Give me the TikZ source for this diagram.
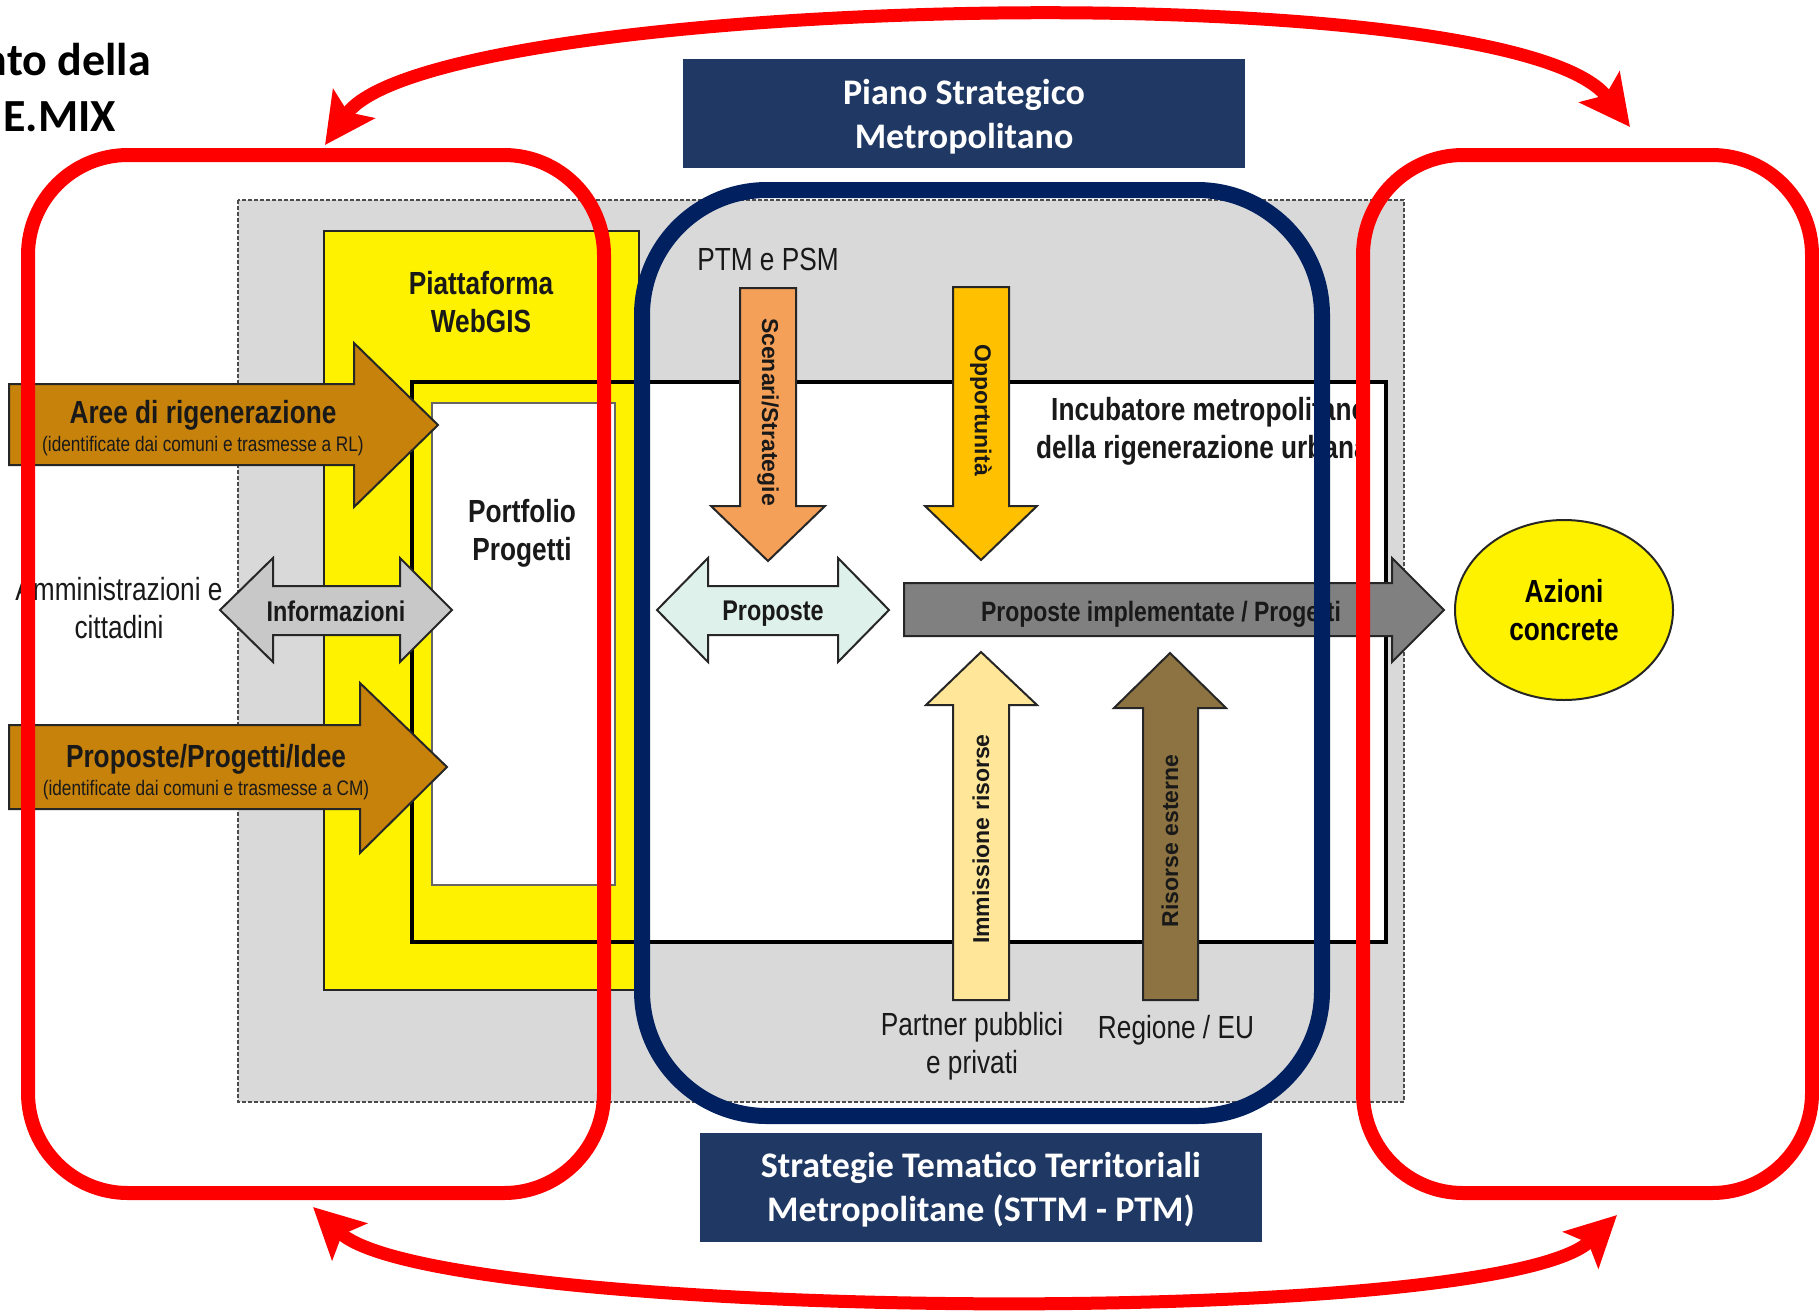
\documentclass[tikz,border=0pt]{standalone}
\usepackage{fontspec}
\setmainfont{Liberation Sans}
\newfontfamily\narfont[FakeStretch=0.82]{Liberation Sans}
\newfontfamily\calfont{Carlito}
\usetikzlibrary{arrows.meta,shapes.geometric}
\definecolor{redL}{RGB}{255,0,0}
\definecolor{navyL}{RGB}{0,32,96}
\definecolor{boxblue}{RGB}{32,56,100}
\definecolor{bgrey}{RGB}{217,217,217}
\definecolor{brownA}{RGB}{199,130,12}
\definecolor{orangeA}{RGB}{244,160,88}
\definecolor{goldA}{RGB}{255,192,0}
\definecolor{paleY}{RGB}{255,230,153}
\definecolor{oliveA}{RGB}{140,115,65}
\definecolor{mintA}{RGB}{222,241,234}
\definecolor{greyA}{RGB}{200,200,200}
\definecolor{darkA}{RGB}{128,128,128}
\begin{document}
\begin{tikzpicture}[x=1pt,y=-1pt,
  blk/.style={draw=black!85, line width=2pt, line join=miter},
  bnar/.style={font=\narfont\bfseries\fontsize{32}{38}\selectfont, inner sep=0, align=center, text=black!90},
  rnar/.style={font=\narfont\fontsize{32}{38}\selectfont, inner sep=0, align=center, text=black!90},
  subnar/.style={font=\narfont\fontsize{21}{24}\selectfont, inner sep=0, text=black!90},
  rot/.style={font=\bfseries\fontsize{23}{26}\selectfont, inner sep=0, text=black!90},
  ctext/.style={text=white, font=\calfont\bfseries\fontsize{36}{44}\selectfont, align=center, inner sep=0},
  redbox/.style={draw=redL, line width=14pt, rounded corners=100pt},
  redarc/.style={draw=redL, line width=13pt, {Stealth[length=50pt,width=50pt,inset=10pt]}-{Stealth[length=50pt,width=50pt,inset=10pt]}}
]
\useasboundingbox (0,0) rectangle (1819,1312);
\fill[white] (0,0) rectangle (1819,1312);

% title
\node[anchor=east, inner sep=0, font=\calfont\bfseries\fontsize{46}{54}\selectfont] (t1) at (151,60) {nto della};
\node[anchor=east, inner sep=0, font=\calfont\bfseries\fontsize{46}{54}\selectfont] (t2) at (116,117) {E.MIX};

% grey background
\draw[draw=black!70, fill=bgrey, dash pattern=on 4pt off 2pt, line width=1.8pt] (238,200) rectangle (1404,1102);
% incubator fill
\fill[white] (412,382) rectangle (1386,942);
% yellow platform
\draw[fill=yellow, draw=black!85, line width=2.5pt] (324,231) rectangle (639,990);
% incubator border
\draw[black, line width=3.5pt] (412,382) rectangle (1386,942);
% portfolio
\draw[fill=white, draw=black!60, line width=1.5pt] (432,403) rectangle (615,885);

\node[bnar] (piatt) at (481,302) {Piattaforma\\WebGIS};
\node[bnar] (portf) at (522,533) {Portfolio\\Progetti};
\node[bnar, anchor=west] (incub1) at (1051,412) {Incubatore metropolitano};
\node[bnar, anchor=west] (incub2) at (1036,450) {della rigenerazione urbana};
\node[rnar] (amm) at (119,608) {Amministrazioni e\\cittadini};
\node[rnar] (ptm) at (768,259) {PTM e PSM};
\node[rnar] (partner) at (972,1046) {Partner pubblici\\e privati};
\node[rnar] (regione) at (1176,1030) {Regione / EU};

% Aree di rigenerazione arrow
\draw[blk, fill=brownA] (9,384) -- (354,384) -- (354,343) -- (438,425) -- (354,507) -- (354,465) -- (9,465) -- cycle;
\node[bnar] (aree) at (203,415) {Aree di rigenerazione};
\node[subnar] (areesub) at (203,446) {(identificate dai comuni e trasmesse a RL)};

% Proposte/Progetti/Idee arrow
\draw[blk, fill=brownA] (9,725) -- (360,725) -- (360,683) -- (447,767) -- (360,853) -- (360,809) -- (9,809) -- cycle;
\node[bnar] (ppi) at (206,759) {Proposte/Progetti/Idee};
\node[subnar] (ppisub) at (206,790) {(identificate dai comuni e trasmesse a CM)};

% Informazioni double arrow
\draw[blk, fill=greyA] (220,610) -- (273,558) -- (273,586) -- (400,586) -- (400,558) -- (452,610) -- (400,662) -- (400,635) -- (273,635) -- (273,662) -- cycle;
\node[bnar, font=\narfont\bfseries\fontsize{28.5}{32}\selectfont] (info) at (336,611) {Informazioni};

% Proposte double arrow
\draw[blk, fill=mintA] (657,610) -- (708,558) -- (708,586) -- (838,586) -- (838,558) -- (889,610) -- (838,662) -- (838,635) -- (708,635) -- (708,662) -- cycle;
\node[bnar, font=\narfont\bfseries\fontsize{28.5}{32}\selectfont] (prop) at (773,614) {Proposte};

% Scenari/Strategie down arrow
\draw[blk, fill=orangeA] (740,288) -- (796,288) -- (796,506) -- (825,506) -- (768,561) -- (711,506) -- (740,506) -- cycle;
\node[rot, rotate=-90] (scen) at (768,412) {Scenari/Strategie};

% Opportunita down arrow
\draw[blk, fill=goldA] (953,287) -- (1009,287) -- (1009,506) -- (1037,506) -- (981,560) -- (925,506) -- (953,506) -- cycle;
\node[rot, rotate=-90] (opp) at (981,410) {Opportunità};

% Proposte implementate arrow
\draw[blk, fill=darkA] (904,583) -- (1392,583) -- (1392,558) -- (1444,610) -- (1392,662) -- (1392,636) -- (904,636) -- cycle;
\node[bnar, font=\narfont\bfseries\fontsize{28}{32}\selectfont] (pimpl) at (1161,614) {Proposte implementate / Progetti};

% Immissione risorse up arrow
\draw[blk, fill=paleY] (953,1000) -- (1009,1000) -- (1009,705) -- (1037,705) -- (981,652) -- (926,705) -- (953,705) -- cycle;
\node[rot, rotate=90] (imm) at (981,839) {Immissione risorse};

% Risorse esterne up arrow
\draw[blk, fill=oliveA] (1143,1000) -- (1198,1000) -- (1198,708) -- (1226,708) -- (1170,653) -- (1114,708) -- (1143,708) -- cycle;
\node[rot, rotate=90] (ris) at (1170,841) {Risorse esterne};

% Azioni concrete
\node[ellipse, draw=black!85, line width=2pt, fill=yellow, minimum width=218pt, minimum height=180pt, inner sep=0, font=\narfont\bfseries\fontsize{32}{38}\selectfont, align=center] (azioni) at (1564,610) {Azioni\\concrete};

% navy rounded box
\draw[navyL, line width=16pt, rounded corners=125pt] (642,190) rectangle (1322,1116);

% red boxes
\draw[redbox] (28,155) rectangle (604,1193);
\draw[redbox] (1363,155) rectangle (1812,1193);

% label boxes
\fill[boxblue] (683,59) rectangle (1245,168);
\node[ctext] (piano) at (964,117) {Piano Strategico\\Metropolitano};
\fill[boxblue] (700,1133) rectangle (1262,1242);
\node[ctext] (sttm) at (981,1190) {Strategie Tematico Territoriali\\Metropolitane (STTM - PTM)};

% red curved arrows
\coordinate (lt) at (325,145);
\coordinate (rt) at (1630,127);
\coordinate (lb) at (313,1207);
\coordinate (rb) at (1617,1215);
\draw[redarc] (lt) .. controls (430,-5) and (1510,-30) .. (rt);
\draw[redarc] (lb) .. controls (433,1321) and (1497,1331) .. (rb);
\end{tikzpicture}
\end{document}
